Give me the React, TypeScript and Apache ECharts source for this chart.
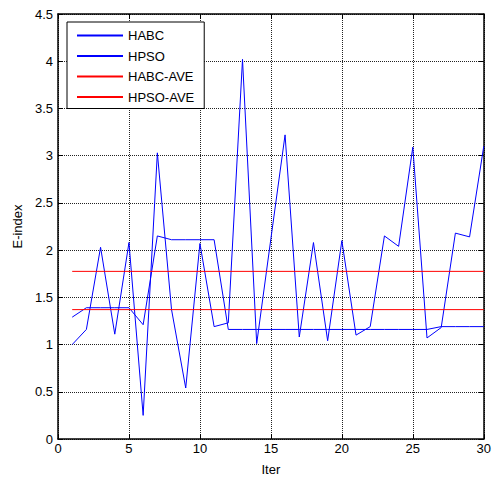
import React, { useEffect, useRef } from "react";
import * as echarts from "echarts";

const iters = [1,2,3,4,5,6,7,8,9,10,11,12,13,14,15,16,17,18,19,20,21,22,23,24,25,26,27,28,29,30];
const habc = [1.29,1.39,1.39,1.39,1.39,1.21,2.15,2.11,2.11,2.11,2.11,1.16,1.16,1.16,1.16,1.16,1.16,1.16,1.16,1.16,1.16,1.16,1.16,1.16,1.16,1.16,1.19,1.19,1.19,1.19];
const hpso = [1.0,1.16,2.03,1.11,2.08,0.25,3.03,1.37,0.54,2.07,1.19,1.23,4.02,1.01,2.12,3.22,1.08,2.08,1.04,2.1,1.1,1.19,2.15,2.04,3.09,1.07,1.18,2.18,2.14,3.1];
const habcAve = 1.37;
const hpsoAve = 1.775;
const seriesNames = ["HABC", "HPSO", "HABC-AVE", "HPSO-AVE"];

export default function App() {
  const ref = useRef<HTMLDivElement>(null);
  useEffect(() => {
    if (!ref.current) return;
    document.body.style.margin = "0";
    const chart = echarts.init(ref.current, null, { renderer: "svg" });
    const font = "Liberation Sans, Arial, sans-serif";
    const pair = (vals: number[]) => iters.map((x, i) => [x, vals[i]]);
    const flat = (v: number) => [[iters[0], v], [iters[iters.length - 1], v]];
    const lineSeries = (name: string, data: number[][], color: string) => ({
      name,
      type: "line",
      data,
      symbol: "none",
      showSymbol: false,
      lineStyle: { color, width: 1 },
      itemStyle: { color },
      z: 3,
    });
    chart.setOption({
      animation: false,
      grid: { left: 58, right: 6, top: 14, bottom: 40 },
      legend: {
        orient: "vertical",
        left: 67,
        top: 22,
        data: seriesNames,
        backgroundColor: "#fff",
        borderColor: "#000",
        borderWidth: 1,
        padding: [7, 10, 5, 9],
        itemWidth: 46,
        itemHeight: 14,
        itemGap: 7.5,
        itemStyle: { opacity: 0 },
        textStyle: { fontFamily: font, fontSize: 13, color: "#000" },
        z: 10,
      },
      xAxis: [
        {
          type: "value",
          min: 0,
          max: 30,
          interval: 5,
          name: "Iter",
          nameLocation: "middle",
          nameGap: 24,
          nameTextStyle: { fontFamily: font, fontSize: 13, color: "#000" },
          axisLine: { show: true, onZero: false, lineStyle: { color: "#000", width: 1.5 } },
          axisTick: { show: true, inside: true, length: 5, lineStyle: { color: "#000" } },
          axisLabel: { fontFamily: font, fontSize: 13, color: "#000", margin: 3 },
          splitLine: { show: true, lineStyle: { color: "#222", type: "dotted", width: 1 } },
        },
        {
          type: "value",
          position: "top",
          min: 0,
          max: 30,
          interval: 5,
          axisLine: { show: true, onZero: false, lineStyle: { color: "#000", width: 1.5 } },
          axisTick: { show: true, inside: true, length: 5, lineStyle: { color: "#000" } },
          axisLabel: { show: false },
          splitLine: { show: false },
        },
      ],
      yAxis: [
        {
          type: "value",
          min: 0,
          max: 4.5,
          interval: 0.5,
          name: "E-index",
          nameLocation: "middle",
          nameGap: 27,
          nameTextStyle: { fontFamily: font, fontSize: 13, color: "#000" },
          axisLine: { show: true, onZero: false, lineStyle: { color: "#000", width: 1.5 } },
          axisTick: { show: true, inside: true, length: 5, lineStyle: { color: "#000" } },
          axisLabel: { fontFamily: font, fontSize: 13, color: "#000", margin: 5 },
          splitLine: { show: true, lineStyle: { color: "#222", type: "dotted", width: 1 } },
        },
        {
          type: "value",
          position: "right",
          min: 0,
          max: 4.5,
          interval: 0.5,
          axisLine: { show: true, onZero: false, lineStyle: { color: "#000", width: 1.5 } },
          axisTick: { show: true, inside: true, length: 5, lineStyle: { color: "#000" } },
          axisLabel: { show: false },
          splitLine: { show: false },
        },
      ],
      series: [
        lineSeries(seriesNames[0], pair(habc), "#0000ff"),
        lineSeries(seriesNames[1], pair(hpso), "#0000ff"),
        lineSeries(seriesNames[2], flat(habcAve), "#ff0000"),
        lineSeries(seriesNames[3], flat(hpsoAve), "#ff0000"),
      ],
    });
    return () => chart.dispose();
  }, []);
  return <div ref={ref} style={{ width: 494, height: 481 }} />;
}
